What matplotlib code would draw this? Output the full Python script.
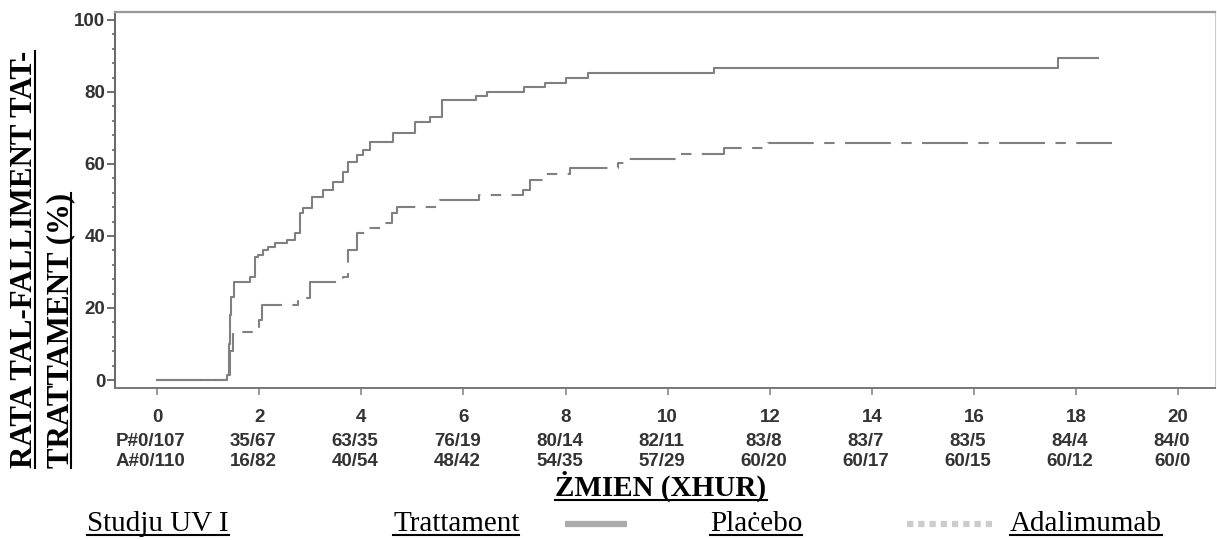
import matplotlib
matplotlib.use('Agg')
import matplotlib.pyplot as plt
from matplotlib.lines import Line2D

W, H = 1217, 540

# Kaplan-Meier curves: months vs. treatment failure rate (%)
placebo_t = [0, 1.37, 1.40, 1.43, 1.45, 1.50, 1.82, 1.92, 1.97, 2.08, 2.18, 2.31, 2.54, 2.70,
             2.80, 2.86, 3.04, 3.25, 3.45, 3.65, 3.74, 3.92, 4.04, 4.17, 4.62, 5.05, 5.35,
             5.58, 6.25, 6.47, 7.19, 7.60, 8.00, 8.44, 10.90, 17.65, 18.43]
placebo_pct = [0, 1.5, 10, 18, 23, 27.2, 28.6, 34.2, 34.7, 36.1, 37.0, 38.0, 38.9, 40.8,
               46.4, 47.8, 50.9, 52.8, 55.0, 57.8, 60.6, 62.5, 63.9, 66.1, 68.6, 71.7, 73.0,
               77.8, 78.9, 80.0, 81.4, 82.5, 83.9, 85.3, 86.7, 89.4, 89.4]

ada_t = [0, 1.37, 1.43, 1.49, 1.86, 2.00, 2.06, 2.76, 3.00, 3.64, 3.74, 3.92, 4.10, 4.40,
         4.60, 4.70, 5.54, 6.30, 7.17, 7.30, 7.54, 8.09, 9.03, 9.25, 10.20, 11.10, 11.97, 18.70]
ada_pct = [0, 1.5, 8, 13.3, 14.7, 16.7, 20.8, 22.8, 27.2, 28.6, 36.0, 40.8, 42.2, 43.6,
           46.4, 48.0, 50.0, 51.4, 52.8, 55.5, 57.3, 58.9, 60.3, 61.4, 62.8, 64.4, 65.8, 65.8]

# numbers at risk under the x axis
months = [0, 2, 4, 6, 8, 10, 12, 14, 16, 18, 20]
placebo_risk = ['P#0/107', '35/67', '63/35', '76/19', '80/14', '82/11', '83/8', '83/7',
                '83/5', '84/4', '84/0']
ada_risk = ['A#0/110', '16/82', '40/54', '48/42', '54/35', '57/29', '60/20', '60/17',
            '60/15', '60/12', '60/0']

ylabel_lines = ['RATA TAL-FALLIMENT TAT-', 'TRATTAMENT (%)']
xlabel = 'ŻMIEN (XHUR)'
legend_title = 'Studju UV I'
legend_head = 'Trattament'
legend_names = ['Plaċebo', 'Adalimumab']

sans = 'Liberation Sans'
serif = 'Liberation Serif'
curve_col = '#808080'
tick_col = '#333333'


def fx(px):
    return px / W


def fy(py):
    return 1 - py / H


fig = plt.figure(figsize=(W / 100, H / 100), dpi=100)
ax = fig.add_axes([fx(115), fy(388), 1100 / W, 376 / H])

ax.step(placebo_t, placebo_pct, where='post', color=curve_col, lw=1.5)
ax.step(ada_t, ada_pct, where='post', color=curve_col, lw=1.5,
        ls=(0, (22, 5, 5, 5)))

ax.set_xlim(-0.823, 20.72)
ax.set_ylim(-2.22, 102.2)

ax.set_yticks(range(0, 101, 20))
ax.set_yticks(range(0, 101, 4), minor=True)
ax.set_yticklabels([str(v) for v in range(0, 101, 20)], fontfamily=sans,
                   fontweight='bold', fontsize=13.5, color=tick_col)
ax.tick_params(axis='y', which='major', length=6, width=1.2, color='#555555', pad=1)
ax.tick_params(axis='y', which='minor', length=2.5, width=1.2, color='#666666')

ax.set_xticks(months)
ax.set_xticklabels([])
ax.tick_params(axis='x', which='major', length=5, width=1.2, color='#888888')

for side, col, w in [('left', '#666666', 1.4), ('bottom', '#777777', 1.4),
                     ('top', '#999999', 1.6), ('right', '#cccccc', 0.8)]:
    ax.spines[side].set_color(col)
    ax.spines[side].set_linewidth(w)

# tick numbers and the two rows of patients at risk
xt = ax.get_xaxis_transform()
for m, p, a in zip(months, placebo_risk, ada_risk):
    ax.text(m, (388 - 417) / 376, str(m), transform=xt, ha='center', va='center',
            fontfamily=sans, fontweight='bold', fontsize=13.5, color=tick_col)
    ax.text(m - 0.12, (388 - 442) / 376, p, transform=xt, ha='center', va='center',
            fontfamily=sans, fontweight='bold', fontsize=13.5, color=tick_col)
    ax.text(m - 0.12, (388 - 462) / 376, a, transform=xt, ha='center', va='center',
            fontfamily=sans, fontweight='bold', fontsize=13.5, color=tick_col)

# axis titles and legend row (underlined serif text)
horiz = []
vert = []
for i, (line, xb) in enumerate(zip(ylabel_lines, [32, 68])):
    t = fig.text(fx(xb), fy(468), line, rotation=90, rotation_mode='anchor',
                 ha='left', va='baseline', fontfamily=serif, fontweight='bold',
                 fontsize=22.2)
    vert.append((t, xb + 3))

t = fig.text(fx(661), fy(496), xlabel, ha='center', va='baseline', fontfamily=serif,
             fontweight='bold', fontsize=21)
horiz.append((t, 500))

for label, x0 in [(legend_title, 87), (legend_head, 393), (legend_names[0], 710),
                  (legend_names[1], 1010)]:
    t = fig.text(fx(x0), fy(531), label, ha='left', va='baseline', fontfamily=serif,
                 fontsize=21)
    horiz.append((t, 535))

fig.add_artist(Line2D([fx(565), fx(627)], [fy(524), fy(524)], color='#aaaaaa', lw=4.5,
                      solid_capstyle='butt'))
fig.add_artist(Line2D([fx(907), fx(993)], [fy(524), fy(524)], color='#cccccc', lw=4.5,
                      ls=(0, (1, 0.8))))

fig.canvas.draw()
r = fig.canvas.get_renderer()
for t, py in horiz:
    bb = t.get_window_extent(r)
    fig.add_artist(Line2D([bb.x0 / W, bb.x1 / W], [fy(py), fy(py)], color='black', lw=1.5))
for t, px in vert:
    bb = t.get_window_extent(r)
    fig.add_artist(Line2D([fx(px), fx(px)], [bb.y0 / H, bb.y1 / H], color='black', lw=1.5))

fig.savefig('out.png', dpi=100, facecolor='white')
